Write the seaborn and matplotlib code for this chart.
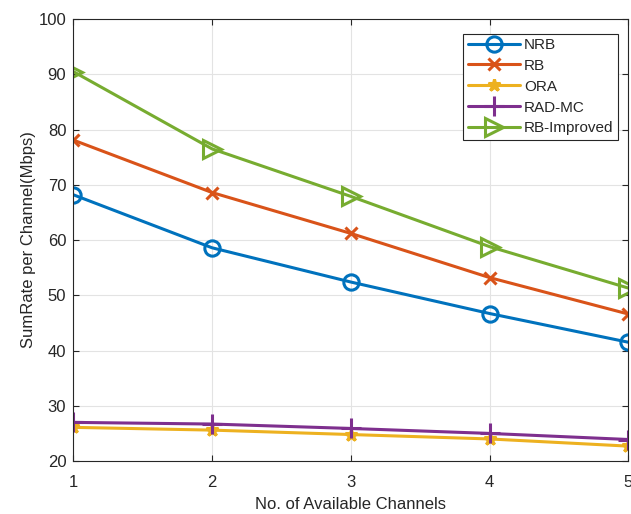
import matplotlib
matplotlib.use("Agg")
import matplotlib.pyplot as plt
import seaborn as sns
import pandas as pd

channels = [1, 2, 3, 4, 5]
nrb = [68.2, 58.6, 52.4, 46.7, 41.5]
rb = [78.1, 68.6, 61.2, 53.2, 46.6]
ora = [26.1, 25.6, 24.8, 24.0, 22.7]
rad_mc = [27.0, 26.7, 25.9, 25.0, 23.9]
rb_improved = [90.5, 76.5, 67.9, 58.8, 51.3]

series_names = ["NRB", "RB", "ORA", "RAD-MC", "RB-Improved"]
series_values = [nrb, rb, ora, rad_mc, rb_improved]
colors = ["#0072BD", "#D95319", "#EDB120", "#7E2F8E", "#77AC30"]
markers = ["o", "x", "*", "+", ">"]
msizes = [11, 9, 9, 14, 13]

sns.set_style("white")
plt.rcParams['font.family'] = ['Liberation Sans', 'DejaVu Sans']

fig = plt.figure(figsize=(6.31, 5.14), dpi=100)
ax = fig.add_axes([0.116, 0.103, 0.88, 0.86])

for name, vals, c, m, ms in zip(series_names, series_values, colors, markers, msizes):
    df = pd.DataFrame({"x": channels, "y": vals})
    sns.lineplot(data=df, x="x", y="y", ax=ax, color=c, marker=m, markersize=ms,
                 markerfacecolor="none", markeredgecolor=c, markeredgewidth=2.2,
                 linewidth=2.2, label=name)

ax.set_xlim(1, 5)
ax.set_ylim(20, 100)
ax.set_xticks(channels)
ax.set_yticks(range(20, 101, 10))
ax.grid(True, color="#e3e3e3", linewidth=0.8)
ax.tick_params(direction="in", labelsize=12, colors="#262626", length=4, width=0.8,
               top=True, right=True, bottom=True, left=True)
ax.tick_params(axis="x", pad=10)
ax.tick_params(axis="y", pad=5)
for s in ax.spines.values():
    s.set_color("#262626")
    s.set_linewidth(0.8)
ax.set_xlabel("No. of Available Channels", fontsize=12, color="#262626", labelpad=5)
ax.set_ylabel("SumRate per Channel(Mbps)", fontsize=12, color="#262626", labelpad=2)

leg = ax.legend(loc="upper right", bbox_to_anchor=(0.981, 0.967), fontsize=11,
                frameon=True, fancybox=False, edgecolor="#262626", framealpha=1,
                handlelength=3.4, borderpad=0.28, labelspacing=0.45, handletextpad=0.3,
                borderaxespad=0.0)
leg.get_frame().set_linewidth(0.8)

fig.savefig("out.png", dpi=100)
